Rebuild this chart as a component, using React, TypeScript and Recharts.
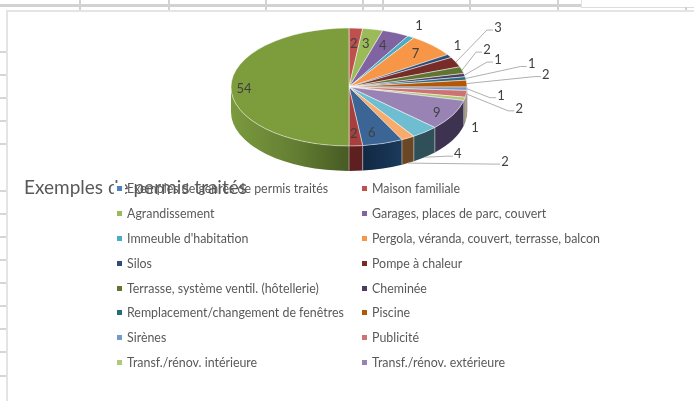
import { PieChart, Pie, Legend } from 'recharts';

const categories = [
  'Exemples de genres de permis traités',
  'Maison familiale',
  'Agrandissement',
  'Garages, places de parc, couvert',
  "Immeuble d'habitation",
  'Pergola, véranda, couvert, terrasse, balcon',
  'Silos',
  'Pompe à chaleur',
  'Terrasse, système ventil. (hôtellerie)',
  'Cheminée',
  'Remplacement/changement de fenêtres',
  'Piscine',
  'Sirènes',
  'Publicité',
  'Transf./rénov. intérieure',
  'Transf./rénov. extérieure',
  // the legend is cut off in the source, the last slices have no readable name
  '',
  '',
  '',
  '',
  '',
];

const values = [0, 2, 3, 4, 1, 7, 1, 3, 2, 1, 1, 2, 1, 2, 1, 9, 4, 2, 6, 2, 54];

const topColors = [
  '#4F81BD', '#C0504D', '#9BBB59', '#8064A2', '#4BACC6', '#F79646', '#2C4D75',
  '#772C2A', '#5F7530', '#4D3B62', '#276A7C', '#B65708', '#729ACA', '#CD7371',
  '#AFC97A', '#9983B5', '#6FBDD1', '#F9AB6B', '#3A6595', '#A83F3D', '#7D9D3D',
];

const wallColors = [
  '#27405e', '#602826', '#4d5e2c', '#403251', '#255663', '#7c4b23', '#16263a',
  '#3c1615', '#303b18', '#271e31', '#14353e', '#5b2c04', '#5a6a80', '#94605f',
  '#7c8a5c', '#3d3350', '#2f5058', '#6b4726', 'url(#wallBlue)', '#5d1f1f', 'url(#wallGreen)',
];

// label centre relative to the slice rim: [dx, dy, has leader, leader starts on the wall]
const labelOffsets: [number, number, boolean?, boolean?][] = [
  [0, 0], [-2, 15], [-7, 14], [-13, 12], [8, -12], [-17, 8], [8, -11],
  [42, -35, true], [25, -21, true], [33.5, -16, true], [66, -15, true], [79, -10, true],
  [34, 6, true], [53, 14, true], [10.5, 28], [-16, -3],
  [33, 21, true, true], [97, 23, true, true], [-11, -11.5], [-2, -13], [13, 1],
];

const rows = categories.map((name, i) => ({ name, value: values[i], fill: topColors[i] }));

const WIDTH = 694;
const HEIGHT = 401;
const TILT = 0.5;
const DEPTH = 25;
const RAD = Math.PI / 180;
const FONT = 'Lato, "Open Sans", sans-serif';

const gridTicksTop = [80, 169, 266, 363, 383, 470, 558];
const gridTicksLeft = [52, 75, 98, 121, 144, 191, 214, 237, 260, 283, 306, 329, 352, 376];

const ellipsePoint = (cx: number, cy: number, r: number, deg: number) => ({
  x: cx + r * Math.cos(deg * RAD),
  y: cy - r * TILT * Math.sin(deg * RAD),
});

const Slice3D = (props: any) => {
  const { cx, cy, outerRadius: r, startAngle, endAngle, fill, index } = props;
  if (startAngle === endAngle) return <g />;
  const ry = r * TILT;
  const p0 = ellipsePoint(cx, cy, r, startAngle);
  const p1 = ellipsePoint(cx, cy, r, endAngle);
  const large = startAngle - endAngle > 180 ? 1 : 0;
  const top = `M${cx},${cy} L${p0.x},${p0.y} A${r},${ry} 0 ${large} 1 ${p1.x},${p1.y} Z`;

  // the wall only shows on the front half of the disc
  const a0 = Math.min(startAngle, 0);
  const a1 = Math.max(endAngle, -180);
  let wall = null;
  if (a0 > a1) {
    const w0 = ellipsePoint(cx, cy, r, a0);
    const w1 = ellipsePoint(cx, cy, r, a1);
    wall = (
      <g>
        <path
          d={`M${w0.x},${w0.y} A${r},${ry} 0 0 1 ${w1.x},${w1.y} L${w1.x},${w1.y + DEPTH} A${r},${ry} 0 0 0 ${w0.x},${w0.y + DEPTH} Z`}
          fill={wallColors[index]}
        />
        <line x1={w0.x} y1={w0.y} x2={w0.x} y2={w0.y + DEPTH} stroke="#b8b8b8" strokeOpacity={0.7} strokeWidth={1} />
      </g>
    );
  }
  return (
    <g>
      {wall}
      <path d={top} fill={fill} stroke="#ffffff" strokeOpacity={0.6} strokeWidth={0.8} />
    </g>
  );
};

const SliceLabel = (props: any) => {
  const { cx, cy, outerRadius: r, midAngle, index, value } = props;
  if (!value) return <g />;
  const [dx, dy, leader, onWall] = labelOffsets[index];
  const rim = ellipsePoint(cx, cy, r, midAngle);
  const lx = rim.x + dx;
  const ly = rim.y + dy;
  const startY = onWall ? rim.y + DEPTH : rim.y;
  return (
    <g>
      {leader && (
        <polyline
          points={`${rim.x},${startY} ${lx - 11},${ly + 3} ${lx - 5},${ly + 3}`}
          fill="none"
          stroke="#b0b0b0"
          strokeWidth={1}
        />
      )}
      <text x={lx} y={ly} textAnchor="middle" dominantBaseline="central" fontFamily={FONT} fontSize={13} fill="#404040">
        {value}
      </text>
    </g>
  );
};

const LegendBlock = ({ payload }: any) => (
  <div
    style={{
      display: 'grid',
      gridTemplateColumns: '245px 300px',
      gridAutoRows: '24.9px',
      fontFamily: FONT,
      fontSize: 12.4,
      color: '#595959',
      whiteSpace: 'nowrap',
    }}
  >
    {(payload || [])
      .filter((item: any) => item.value)
      .map((item: any) => (
        <div key={item.value} style={{ display: 'flex', alignItems: 'center', height: 15 }}>
          <span style={{ background: '#fff', padding: '3px', marginRight: 2, display: 'inline-flex' }}>
            <span style={{ width: 5, height: 5, background: item.color, display: 'block' }} />
          </span>
          <span>{item.value}</span>
        </div>
      ))}
  </div>
);

const App = () => (
  <div style={{ position: 'absolute', left: 0, top: 0, width: WIDTH, height: HEIGHT, background: '#fff', overflow: 'hidden', filter: 'blur(0.35px)' }}>
    {/* spreadsheet behind the chart */}
    <div style={{ position: 'absolute', left: 0, top: 4, width: 581, height: 3, background: '#d2d2d2' }} />
    <div style={{ position: 'absolute', left: 581, top: 7, width: 113, height: 1, background: '#dcdcdc' }} />
    <div style={{ position: 'absolute', left: 581, top: 0, width: 1, height: 7, background: '#e4e4e4' }} />
    <div style={{ position: 'absolute', left: 685, top: 7, width: 2, height: 3, background: '#cfcfcf' }} />
    {gridTicksTop.map((x) => (
      <div key={x} style={{ position: 'absolute', left: x - 1, top: 0, width: 2, height: 10, background: '#d2d2d2' }} />
    ))}
    {gridTicksLeft.map((y) => (
      <div key={y} style={{ position: 'absolute', left: 0, top: y - 1, width: 6, height: 2, background: '#d6d6d6' }} />
    ))}
    <div style={{ position: 'absolute', left: 6, top: 10, width: 688, height: 391, borderLeft: '2px solid #e4e4e4', borderTop: '2px solid #e4e4e4', boxSizing: 'border-box' }} />

    <PieChart width={WIDTH} height={HEIGHT} margin={{ top: 0, right: 0, bottom: 0, left: 0 }} style={{ position: 'absolute', left: 0, top: 0 }}>
      <defs>
        <linearGradient id="wallGreen" x1="0" y1="0" x2="1" y2="0">
          <stop offset="0%" stopColor="#7b9a3f" />
          <stop offset="55%" stopColor="#637e32" />
          <stop offset="100%" stopColor="#475a23" />
        </linearGradient>
        <linearGradient id="wallBlue" x1="0" y1="0" x2="1" y2="0">
          <stop offset="0%" stopColor="#102843" />
          <stop offset="100%" stopColor="#1c3a5c" />
        </linearGradient>
      </defs>
      <text x={24} y={194} fontFamily={FONT} fontSize={19} fill="#595959">
        Exemples de permis traités
      </text>
      <Pie
        data={rows}
        dataKey="value"
        nameKey="name"
        cx={349}
        cy={87}
        outerRadius={118}
        startAngle={90}
        endAngle={-270}
        stroke="none"
        shape={Slice3D}
        label={SliceLabel}
        labelLine={false}
        isAnimationActive={false}
      />
      <Legend
        content={LegendBlock}
        itemSorter={null}
        wrapperStyle={{ position: 'absolute', left: 114, top: 181, width: 560, bottom: 'auto' }}
      />
    </PieChart>
  </div>
);

export default App;
